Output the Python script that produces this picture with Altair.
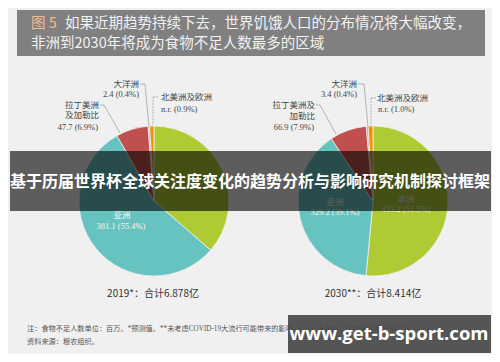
import altair as alt
import pandas as pd

# ---- data ----
regions = ["非洲", "亚洲", "拉丁美洲及加勒比", "大洋洲", "北美洲及欧洲"]
values_2019 = [250.3, 381.1, 47.7, 2.4, 6.3]
values_2030 = [433.2, 329.2, 66.9, 3.4, 8.7]
pct_2019 = [36.4, 55.4, 6.9, 0.4, 0.9]
pct_2030 = [51.5, 39.1, 7.9, 0.4, 1.0]
region_colors = ["#AFCB34", "#67C3C0", "#C0504D", "#9FA8B0", "#F29100"]
title_2019 = "2019*：合计6.878亿"
title_2030 = "2030**：合计8.414亿"

rows = []
for i, r in enumerate(regions):
    rows.append({"year": "2019", "region": r, "value": values_2019[i], "idx": i})
    rows.append({"year": "2030", "region": r, "value": values_2030[i], "idx": i})
df = pd.DataFrame(rows)

OX, OY = 8, 8
SERIF = "Liberation Serif, Noto Sans CJK SC"
SANS = "Noto Sans CJK SC"
dummy = alt.Data(values=[{"a": 1}])


def fmt(v, p):
    return f"{v}  ({p}%)"


def T(text, x, y, size=8.5, color="#444444", align="left", font=SERIF, weight="normal"):
    return alt.Chart(dummy).mark_text(
        text=text, align=align, baseline="middle", fontSize=size, font=font,
        fontWeight=weight, color=color
    ).encode(x=alt.value(x - OX), y=alt.value(y - OY))


def L(x1, y1, x2, y2, dash=None, color="#9A9A9A"):
    kw = {"color": color, "strokeWidth": 0.7}
    if dash:
        kw["strokeDash"] = dash
    return alt.Chart(dummy).mark_rule(**kw).encode(
        x=alt.value(x1 - OX), y=alt.value(y1 - OY),
        x2=alt.value(x2 - OX), y2=alt.value(y2 - OY))


def R(x1, y1, x2, y2, fill, opacity=1.0):
    return alt.Chart(dummy).mark_rect(color=fill, opacity=opacity).encode(
        x=alt.value(x1 - OX), x2=alt.value(x2 - OX),
        y=alt.value(y1 - OY), y2=alt.value(y2 - OY))


def pie(year, cx, cy):
    return alt.Chart(df).transform_filter(alt.datum.year == year).mark_arc(
        radius=75, stroke="#F0F0F0", strokeWidth=0.8
    ).encode(
        theta=alt.Theta("value:Q", stack=True),
        color=alt.Color("region:N", scale=alt.Scale(domain=regions, range=region_colors), legend=None),
        order=alt.Order("idx:Q"),
        x=alt.value(cx - OX), y=alt.value(cy - OY),
    )


layers = [
    # header
    R(17, 10, 485, 56, "#808080"),
    T("图 5", 31, 24, size=14.5, color="#F6B98A", font=SANS),
    T("如果近期趋势持续下去，世界饥饿人口的分布情况将大幅改变，", 65, 24, size=14.5, color="#F2F2F2", font=SANS),
    T("非洲到2030年将成为食物不足人数最多的区域", 31, 44, size=14.5, color="#F2F2F2", font=SANS),
    # pies
    pie("2019", 154, 201),
    pie("2030", 373, 201),
    # 2019 labels
    T("大洋洲", 139, 84, align="right"),
    T(fmt(values_2019[3], pct_2019[3]), 139, 94, align="right"),
    L(140, 84, 145, 84), L(145, 84, 149, 127),
    T("北美洲及欧洲", 161, 97),
    T("n.r.  (" + str(pct_2019[4]) + "%)", 161, 109),
    L(153, 97, 158, 97, dash=[2, 1]), L(153, 97, 153, 125, dash=[2, 1]),
    T("拉丁美洲", 99, 105, align="right"),
    T("及加勒比", 99, 115, align="right"),
    T(fmt(values_2019[2], pct_2019[2]), 98, 127, align="right"),
    L(100, 105, 104, 105), L(104, 105, 120, 133),
    T("亚洲", 122, 215, align="center", color="#F4F4F4"),
    T(fmt(values_2019[1], pct_2019[1]), 121, 226, align="center", color="#F4F4F4"),
    T(title_2019, 153, 294, size=10, align="center", color="#333333", font=SANS),
    # 2030 labels
    T("大洋洲", 357, 84, align="right"),
    T(fmt(values_2030[3], pct_2030[3]), 357, 94, align="right"),
    L(358, 84, 364, 84), L(364, 84, 368, 127),
    T("北美洲及欧洲", 377, 98),
    T("n.r.  (" + f"{pct_2030[4]:.1f}" + "%)", 378, 109),
    L(371, 98, 376, 98, dash=[2, 1]), L(371, 98, 371, 126, dash=[2, 1]),
    T("拉丁美洲及", 315, 105, align="right"),
    T("加勒比", 315, 116, align="right"),
    T(fmt(values_2030[2], pct_2030[2]), 314, 127, align="right"),
    L(316, 105, 320, 105), L(320, 105, 336, 134),
    T("亚洲", 335, 202, align="center", color="#F4F4F4"),
    T(fmt(values_2030[1], pct_2030[1]), 335, 212, align="center", color="#F4F4F4"),
    T("非洲", 406, 199, align="center", color="#F4F4F4"),
    T(fmt(values_2030[0], pct_2030[0]), 406, 209, align="center", color="#F4F4F4"),
    T(title_2030, 373, 294, size=10, align="center", color="#333333", font=SANS),
    # footnotes
    T("注：食物不足人数单位：百万。*预测值。**未考虑COVID-19大流行可能带来的影响。n.r. = 未报告，因为发生率低于2.5%。",
      27, 329, size=7.2, color="#555555"),
    T("资料来源：粮农组织。", 27, 342, size=7.2, color="#555555"),
    # overlay banner
    R(10, 151, 491, 211, "#000000", 0.61),
    T("基于历届世界杯全球关注度变化的趋势分析与影响研究机制探讨框架", 250, 182, size=16,
      align="center", color="#FFFFFF", font=SANS, weight="bold"),
    # watermark
    R(288, 315, 491, 353, "#494949", 0.93),
    T("www.get-b-sport.com", 389, 334, size=18.5, align="center", color="#FFFFFF",
      font="Open Sans", weight="bold"),
]

chart = alt.layer(*layers).resolve_scale(theta="independent").properties(
    width=484, height=346, padding=0,
    autosize=alt.AutoSizeParams(type="none"),
    background="#F0F0F0",
).configure_view(stroke=None)

chart.save("out.html", embed_options={"renderer": "svg", "actions": False})
